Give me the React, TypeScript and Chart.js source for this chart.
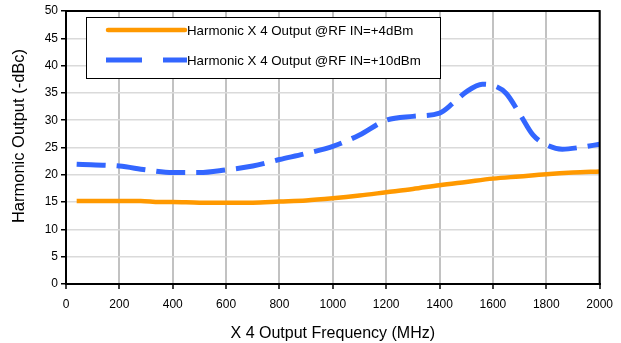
import React, { useEffect, useRef } from "react";
import { Chart, registerables } from "chart.js";

Chart.register(...registerables);

const freq4dBm = [40, 100, 200, 280, 350, 400, 500, 600, 700, 800, 900, 1000, 1100, 1200, 1300, 1400, 1500, 1600, 1700, 1800, 1900, 2000];
const out4dBm = [15.2, 15.2, 15.2, 15.2, 15.0, 15.0, 14.9, 14.9, 14.9, 15.1, 15.3, 15.7, 16.2, 16.8, 17.4, 18.1, 18.7, 19.3, 19.7, 20.1, 20.4, 20.6];

const freq10dBm = [40, 200, 300, 400, 500, 600, 700, 800, 900, 1000, 1100, 1200, 1300, 1400, 1450, 1500, 1560, 1610, 1650, 1700, 1750, 1800, 1860, 1925, 2000];
const out10dBm = [21.95, 21.6, 20.9, 20.4, 20.4, 20.9, 21.6, 22.8, 23.9, 25.2, 27.3, 30.0, 30.7, 31.3, 33.1, 35.2, 36.6, 36.2, 34.9, 31.2, 27.3, 25.5, 24.7, 25.0, 25.6];

const seriesLabels = ["Harmonic X 4 Output @RF IN=+4dBm", "Harmonic X 4 Output @RF IN=+10dBm"];
const xTitle = "X 4 Output Frequency (MHz)";
const yTitle = "Harmonic Output (-dBc)";

const ORANGE = "#FF9900";
const BLUE = "#3366FF";
const FONT = 'Arial, "Liberation Sans", sans-serif';

const framePlugin = {
  id: "frameAndLegend",
  afterDraw(chart: any) {
    const { ctx, chartArea } = chart;
    ctx.save();
    ctx.strokeStyle = "#000";
    ctx.lineWidth = 2;
    ctx.beginPath();
    ctx.moveTo(chartArea.left, chartArea.top);
    ctx.lineTo(chartArea.right, chartArea.top);
    ctx.lineTo(chartArea.right, chartArea.bottom);
    ctx.stroke();

    // legend box
    const bx = 86, by = 17, bw = 354, bh = 61;
    ctx.fillStyle = "#fff";
    ctx.fillRect(bx, by, bw, bh);
    ctx.lineWidth = 1;
    ctx.strokeStyle = "#000";
    ctx.strokeRect(bx + 0.5, by + 0.5, bw, bh);

    ctx.lineCap = "round";
    ctx.lineWidth = 4.5;
    ctx.strokeStyle = ORANGE;
    ctx.beginPath();
    ctx.moveTo(108, 30);
    ctx.lineTo(185, 30);
    ctx.stroke();

    ctx.lineCap = "butt";
    ctx.strokeStyle = BLUE;
    ctx.setLineDash([36, 21]);
    ctx.lineWidth = 5;
    ctx.beginPath();
    ctx.moveTo(106, 60);
    ctx.lineTo(187, 60);
    ctx.stroke();
    ctx.setLineDash([]);

    ctx.fillStyle = "#000";
    ctx.font = `13.3px ${FONT}`;
    ctx.textBaseline = "middle";
    ctx.textAlign = "left";
    ctx.fillText(seriesLabels[0], 187, 31);
    ctx.fillText(seriesLabels[1], 187, 61);

    // y axis title
    ctx.font = `16.5px ${FONT}`;
    ctx.textAlign = "center";
    ctx.translate(19, 136);
    ctx.rotate(-Math.PI / 2);
    ctx.fillText(yTitle, 0, 0);
    ctx.restore();
  },
};

export default function App() {
  const ref = useRef<HTMLCanvasElement | null>(null);
  useEffect(() => {
    if (!ref.current) return;
    const chart = new Chart(ref.current, {
      type: "line",
      data: {
        datasets: [
          {
            label: seriesLabels[0],
            data: freq4dBm.map((f, i) => ({ x: f, y: out4dBm[i] })),
            borderColor: ORANGE,
            borderWidth: 4.5,
            pointRadius: 0,
            cubicInterpolationMode: "monotone",
            fill: false,
          },
          {
            label: seriesLabels[1],
            data: freq10dBm.map((f, i) => ({ x: f, y: out10dBm[i] })),
            borderColor: BLUE,
            borderWidth: 5,
            borderDash: [29, 11],
            pointRadius: 0,
            cubicInterpolationMode: "monotone",
            fill: false,
          },
        ],
      },
      options: {
        animation: false,
        responsive: true,
        maintainAspectRatio: false,
        layout: { padding: { left: 4, top: 11, right: 21, bottom: 0 } },
        plugins: { legend: { display: false }, tooltip: { enabled: false } },
        scales: {
          x: {
            type: "linear",
            min: 0,
            max: 2000,
            ticks: {
              stepSize: 200,
              color: "#000",
              font: { family: FONT, size: 12 },
              padding: 8,
              maxRotation: 0,
              callback: (v: any) => String(v),
            },
            grid: { color: "#c2c2c2", lineWidth: 2, tickColor: "#000", tickLength: 5, tickWidth: 1.5 },
            border: { color: "#000", width: 2 },
            title: { display: true, text: xTitle, color: "#000", font: { family: FONT, size: 16 }, padding: { top: 4, bottom: 0 } },
            afterFit: (s: any) => { s.height = 343 - 284; },
          },
          y: {
            min: 0,
            max: 50,
            ticks: { stepSize: 5, color: "#000", font: { family: FONT, size: 12 }, padding: 3 },
            grid: { color: "#dadada", lineWidth: 1.5, tickColor: "#000", tickLength: 5, tickWidth: 1.5 },
            border: { color: "#000", width: 2 },
            title: { display: false },
            afterFit: (s: any) => { s.width = 66 - 4; },
          },
        },
      },
      plugins: [framePlugin],
    } as any);
    return () => chart.destroy();
  }, []);
  return (
    <div style={{ position: "fixed", left: 0, top: 0, width: 621, height: 343, background: "#fff" }}>
      <canvas ref={ref} />
    </div>
  );
}
